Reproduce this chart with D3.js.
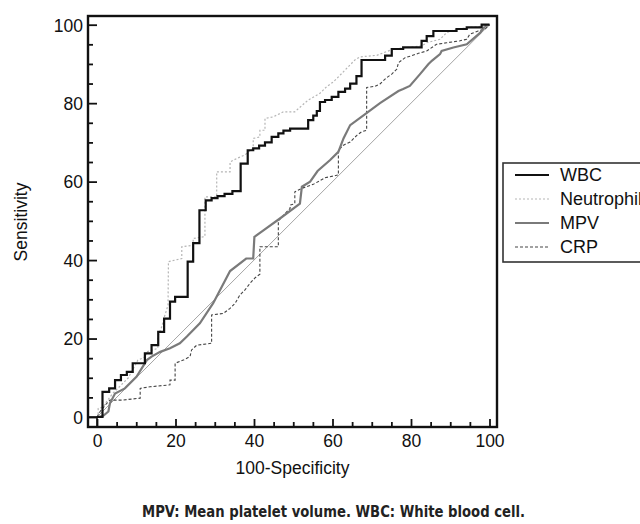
<!DOCTYPE html>
<html>
<head>
<meta charset="utf-8">
<script src="https://cdn.jsdelivr.net/npm/d3@7"></script>
<style>
    body { margin: 0; background: #fff; }
    svg { display: block; font-family: "Liberation Sans", Arial, sans-serif; }
    .tick text { font-size: 17.5px; fill: #111; }
</style>
</head>
<body>
<div id="chart"></div>
<script>
// ROC curve points, [100-specificity, sensitivity]
const wbc = [[0,0],[1.4,0],[1.4,6.4],[3.1,6.4],[3.1,7.3],[4.6,7.3],[4.6,9.4],[6.1,9.4],[6.1,10.7],
    [7.6,10.7],[7.6,11.5],[9.1,11.5],[9.1,13.7],[12.2,13.7],[12.2,16.2],[13.9,16.2],[13.9,18.3],
    [15.6,18.3],[15.6,21.7],[17.1,21.7],[17.1,25.1],[18.6,25.1],[18.6,29.4],[19.9,29.4],[19.9,30.6],
    [23.1,30.6],[23.1,39.6],[24.5,39.6],[24.5,44.3],[26.1,44.3],[26.1,52.7],[27.7,52.7],[27.7,55.2],
    [29.2,55.2],[29.2,55.8],[30.7,55.8],[30.7,56.3],[32.5,56.3],[32.5,56.9],[34.5,56.9],[34.5,57.6],
    [36.6,57.6],[36.6,64.6],[38.4,64.6],[38.4,68.0],[39.8,68.0],[39.8,68.5],[41.3,68.5],[41.3,69.2],
    [42.8,69.2],[42.8,70.0],[44.5,70.0],[44.5,71.4],[46.2,71.4],[46.2,72.3],[47.5,72.3],[47.5,73.0],
    [49.2,73.0],[49.2,73.5],[53.8,73.5],[53.8,75.7],[55.1,75.7],[55.1,76.8],[56.0,76.8],[56.0,78.0],
    [56.8,78.0],[56.8,80.3],[58.1,80.3],[58.1,80.8],[59.8,80.8],[59.8,81.6],[61.5,81.6],[61.5,82.9],
    [63.2,82.9],[63.2,83.7],[64.5,83.7],[64.5,85.0],[66.1,85.0],[66.1,86.9],[67.4,86.9],[67.4,91.0],
    [73.4,91.0],[73.4,92.1],[75.1,92.1],[75.1,93.8],[78.0,93.8],[78.0,94.2],[82.7,94.2],[82.7,95.9],
    [84.0,95.9],[84.0,97.1],[85.7,97.1],[85.7,98.4],[91.6,98.4],[91.6,98.9],[94.2,98.9],[94.2,99.3],
    [98.0,99.3],[98.0,100],[100,100]];

const neutrophil = [[0,0],[0.3,0],[0.3,2.2],[1.5,2.5],[2.5,4],[4,6],[6,8],[8,10],[10.4,14.5],
    [12.5,15.4],[12.6,16.6],[15.5,17.5],[15.5,20.5],[16.5,23],[17,25],[18.1,28.5],[18.2,39.6],
    [21.6,40.4],[21.6,43.4],[24.5,43.8],[24.5,45.5],[27.5,46],[27.5,56.1],[30.5,56.1],[30.5,62.5],
    [33.9,62.5],[33.9,65.0],[35.6,65.9],[37.7,66.8],[38.5,67.5],[39.8,68.5],[39.8,71.0],[41.5,71.4],
    [41.5,73.1],[42.8,73.1],[42.8,76.1],[44.9,76.5],[47.5,77.8],[50.4,77.8],[53.8,80.8],[56.8,82.5],
    [58.5,84.2],[60.2,85.4],[61.9,87.1],[65.7,91.0],[67.0,91.8],[71.3,92.2],[75.5,93.8],[82.7,94.6],
    [84,95.4],[87.4,96.3],[89.1,98.0],[91.6,98.9],[95,99.3],[99.3,99.7],[100,100]];

const mpv = [[0,0],[1.6,0.3],[2.9,1.4],[3.3,3.5],[4.6,6.0],[7.1,7.3],[10.1,10.3],[12.7,14.5],
    [13.9,15.4],[16.1,16.6],[18.6,17.5],[21.1,18.8],[22.9,20.5],[26.2,23.9],[29.6,29.0],[33.9,37.2],
    [38,40.4],[39.8,40.4],[40.1,45.9],[42.4,47.6],[46.6,50.6],[51.7,54.4],[52.2,58.7],[54.3,60.0],
    [56.2,62.7],[59.4,65.5],[61.5,67.6],[62.8,71.0],[64.5,74.4],[69.1,77.8],[72.1,80.0],[76.8,83.1],
    [78,83.6],[79.7,84.4],[82.3,87.4],[84.4,89.9],[85.3,90.8],[87.4,92.5],[87.8,93.3],[90.8,94.2],
    [94.2,95.0],[97.6,97.9],[98.9,99.6],[100,100]];

const crp = [[0,0],[0.8,1.4],[2.5,3.5],[3.3,4.3],[6.3,4.3],[11,4.8],[11,7.3],[13.5,7.7],[18.6,8.2],
    [18.6,9.4],[19.9,9.4],[19.9,13.7],[22,14.5],[23.7,15.4],[24.1,17.1],[25.4,18.3],[29.2,18.8],
    [29.2,26.0],[32.2,26.4],[33.9,27.7],[35.2,29.0],[36.4,31.1],[37.7,32.4],[39,34.1],[40.3,35.5],
    [41.5,36.4],[41.5,43.4],[46.2,43.4],[46.2,50.0],[49.2,53.2],[49.2,54.0],[50.4,54.4],[50.4,57.4],
    [52.2,58.3],[55.1,59.3],[58.1,61.0],[61.5,61.7],[61.5,68.0],[62.8,69.3],[64.5,70.1],[66.2,71.8],
    [67.4,72.7],[68.7,73.1],[68.7,84.0],[70.8,84.3],[72.1,84.9],[73.8,86.5],[75.1,87.4],[76.4,88.7],
    [76.8,90.3],[78.5,91.6],[80.2,92.1],[81.9,92.7],[84,93.3],[86.5,95],[89.1,95.4],[92.5,95.9],
    [94.2,96.3],[95,97.6],[97.1,98.4],[98.9,98.9],[100,100]];

const diagonal = [[0,0],[100,100]];

const majorTicks = [0, 20, 40, 60, 80, 100];
const minorTicks = d3.range(0, 101, 5).filter(v => v % 20 !== 0);

const seriesNames = ['WBC', 'Neutrophil', 'MPV', 'CRP'];
const caption = 'MPV: Mean platelet volume. WBC: White blood cell.';

const RocChart = {
    styles: {
        WBC:        { stroke: '#111', width: 2.2, dash: null },
        Neutrophil: { stroke: '#b5b5b5', width: 1.2, dash: '2,2' },
        MPV:        { stroke: '#7a7a7a', width: 2.2, dash: null },
        CRP:        { stroke: '#444', width: 1.1, dash: '3,2' }
    },

    render(container) {
        const svg = d3.select(container).append('svg')
            .attr('width', 640)
            .attr('height', 524);

        const frame = { left: 88, top: 16, right: 497, bottom: 427 };
        const x = d3.scaleLinear().domain([0, 100]).range([97, 489.5]);
        const y = d3.scaleLinear().domain([0, 100]).range([417, 24.7]);

        // reference diagonal
        const line = d3.line().x(d => x(d[0])).y(d => y(d[1]));
        svg.append('path')
            .attr('d', line(diagonal))
            .attr('fill', 'none')
            .attr('stroke', '#9a9a9a')
            .attr('stroke-width', 0.9);

        const data = { WBC: wbc, Neutrophil: neutrophil, MPV: mpv, CRP: crp };
        ['CRP', 'MPV', 'Neutrophil', 'WBC'].forEach(name => {
            const s = this.styles[name];
            svg.append('path')
                .attr('d', line(data[name]))
                .attr('fill', 'none')
                .attr('stroke', s.stroke)
                .attr('stroke-width', s.width)
                .attr('stroke-dasharray', s.dash)
                .attr('stroke-linejoin', 'miter');
        });

        // small square at the origin corner
        svg.append('rect')
            .attr('x', frame.left)
            .attr('y', y(0))
            .attr('width', x(0) - frame.left)
            .attr('height', frame.bottom - y(0))
            .attr('fill', 'none')
            .attr('stroke', '#111')
            .attr('stroke-width', 1.6);

        this.drawAxes(svg, x, y, frame);
        this.drawLegend(svg);
    },

    drawAxes(svg, x, y, frame) {
        // bottom axis, ticks pointing into the plot
        svg.append('g')
            .attr('transform', `translate(0,${frame.bottom})`)
            .call(d3.axisBottom(x).tickValues(majorTicks).tickSize(-8).tickPadding(8));
        svg.append('g')
            .attr('transform', `translate(0,${frame.bottom})`)
            .call(d3.axisBottom(x).tickValues(minorTicks).tickSize(-5).tickFormat(''));

        const yAxis = svg.append('g')
            .attr('transform', `translate(${frame.left},0)`)
            .call(d3.axisLeft(y).tickValues(majorTicks).tickSize(-9).tickPadding(5));
        svg.append('g')
            .attr('transform', `translate(${frame.left},0)`)
            .call(d3.axisLeft(y).tickValues(minorTicks).tickSize(-5).tickFormat(''));

        svg.selectAll('.domain').remove();
        svg.selectAll('.tick line').attr('stroke', '#111').attr('stroke-width', 1.8);
        svg.selectAll('.tick text').style('font-family', '"Liberation Sans", Arial, sans-serif');
        yAxis.selectAll('.tick text').attr('dy', '0.36em');

        svg.append('rect')
            .attr('x', frame.left)
            .attr('y', frame.top)
            .attr('width', frame.right - frame.left)
            .attr('height', frame.bottom - frame.top)
            .attr('fill', 'none')
            .attr('stroke', '#111')
            .attr('stroke-width', 2.4);

        svg.append('text')
            .attr('x', (frame.left + frame.right) / 2)
            .attr('y', 474)
            .attr('text-anchor', 'middle')
            .attr('font-size', 17.5)
            .attr('fill', '#111')
            .text('100-Specificity');

        svg.append('text')
            .attr('transform', 'translate(27,222) rotate(-90)')
            .attr('text-anchor', 'middle')
            .attr('font-size', 17.5)
            .attr('fill', '#111')
            .text('Sensitivity');

        svg.append('text')
            .attr('x', 142)
            .attr('y', 517)
            .attr('textLength', 383)
            .attr('lengthAdjust', 'spacingAndGlyphs')
            .attr('font-family', '"Liberation Sans Narrow", "DejaVu Sans Condensed", sans-serif')
            .attr('font-weight', 'bold')
            .attr('font-size', 16.5)
            .attr('fill', '#222')
            .text(caption);
    },

    drawLegend(svg) {
        const g = svg.append('g').attr('transform', 'translate(503,163)');
        g.append('rect')
            .attr('width', 160)
            .attr('height', 99)
            .attr('fill', '#fff')
            .attr('stroke', '#333')
            .attr('stroke-width', 1.6);

        const row = d3.scaleBand().domain(seriesNames).range([3, 99]);
        seriesNames.forEach(name => {
            const s = this.styles[name];
            const cy = row(name) + row.bandwidth() / 2 - 3;
            g.append('line')
                .attr('x1', 12).attr('x2', 46)
                .attr('y1', cy).attr('y2', cy)
                .attr('stroke', s.stroke)
                .attr('stroke-width', s.width)
                .attr('stroke-dasharray', s.dash);
            g.append('text')
                .attr('x', 57)
                .attr('y', cy)
                .attr('dy', '0.36em')
                .attr('font-size', 18)
                .attr('fill', '#111')
                .text(name);
        });
    }
};

RocChart.render(document.getElementById('chart'));
</script>
</body>
</html>
